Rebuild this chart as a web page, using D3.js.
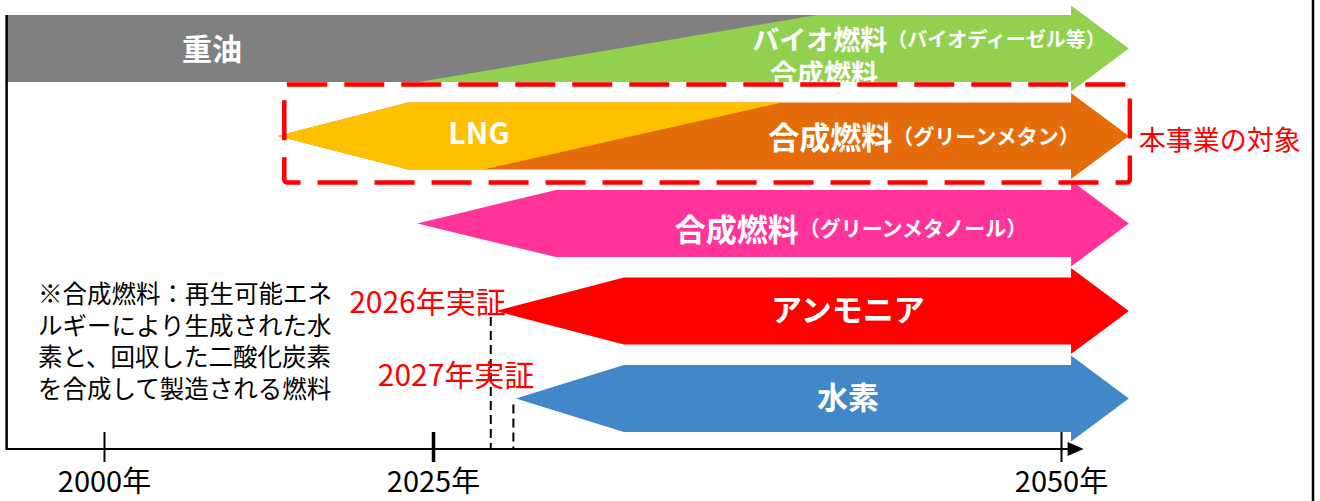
<!DOCTYPE html>
<html lang="ja">
<head>
<meta charset="utf-8">
<title>燃料転換ロードマップ</title>
<script src="https://cdn.jsdelivr.net/npm/d3@7"></script>
<style>
  body { margin: 0; background: #fff; }
  svg { display: block; font-family: "Noto Sans CJK JP", "Noto Sans", sans-serif; }
</style>
</head>
<body>
<script>
// axis: the original squeezes 2000-2025 and stretches 2025-2050
const tickYears = [2000, 2025, 2050];
const tickLabels = ["2000年", "2025年", "2050年"];
const axisFrom = 1992.6, axisTo = 2050.9;

// one row per arrow, top to bottom
const rowKeys = ["oil", "lng", "methanol", "ammonia", "hydrogen"];
const oldColors = ["#808080", "#ffc000", null, null, null];
const newColors = ["#92d050", "#e46c0a", "#ff3399", "#ff0000", "#4287c7"];
const tipYears = [1992.6, 2013.2, 2023.8, 2027.5, 2028.3];   // left point of arrow
const fullYears = [1992.6, 2023.1, 2029.9, 2032.6, 2032.6];  // arrow reaches full height
const shiftStart = [2023.9, 2027.0, null, null, null];       // switch to new fuel (bottom edge)
const shiftEnd = [2040.3, 2038.9, null, null, null];         // switch done (top edge)
const endYear = 2050.4, headYear = 2052.7;

const demoYears = [2027.3, 2028.2];
const demoLabels = ["2026年実証", "2027年実証"];
const targetLabel = "本事業の対象";
const noteLines = [
  "※合成燃料：再生可能エネ",
  "ルギーにより生成された水",
  "素と、回収した二酸化炭素",
  "を合成して製造される燃料"
];

const width = 1320, height = 501;
const svg = d3.select("body").append("svg")
  .attr("width", width)
  .attr("height", height);

const x = d3.scaleLinear()
  .domain(tickYears)
  .range([104, 433, 1061]);

const y = d3.scalePoint()
  .domain(rowKeys)
  .range([48.5, 398.5]);

const h = 33.5, H = 43;
const axisY = 449;

// arrows
rowKeys.forEach((k, i) => {
  const cy = y(k);
  const pts = [
    [x(tipYears[i]), cy], [x(fullYears[i]), cy - h], [x(endYear), cy - h],
    [x(endYear), cy - H], [x(headYear), cy], [x(endYear), cy + H],
    [x(endYear), cy + h], [x(fullYears[i]), cy + h]
  ];
  svg.append("polygon")
    .attr("points", pts.map(p => p.join(",")).join(" "))
    .attr("fill", newColors[i]);

  if (oldColors[i]) {
    const old = [
      [x(tipYears[i]), cy], [x(fullYears[i]), cy - h], [x(shiftEnd[i]), cy - h],
      [x(shiftStart[i]), cy + h], [x(fullYears[i]), cy + h]
    ];
    svg.append("polygon")
      .attr("points", old.map(p => p.join(",")).join(" "))
      .attr("fill", oldColors[i]);
  }
});

// labels on the arrows
function label(cx, cy, parts) {
  const t = svg.append("text")
    .attr("x", cx).attr("y", cy)
    .attr("text-anchor", "middle")
    .attr("dominant-baseline", "central")
    .attr("fill", "#fff")
    .attr("font-weight", 700);
  parts.forEach(p => t.append("tspan").attr("font-size", p[1]).text(p[0]));
  return t;
}
label(212, y("oil") - 2, [["重油", 30]]);
label(929, y("oil") - 11, [["バイオ燃料", 27], ["（バイオディーゼル等）", 20]])
  .append("tspan")
  .attr("x", 824).attr("dy", 34)
  .attr("font-size", 27)
  .text("合成燃料");
label(479, y("lng") - 5, [["LNG", 30]]);
label(924, y("lng") - 1, [["合成燃料", 31], ["（グリーンメタン）", 21]]);
label(851, y("methanol") + 3, [["合成燃料", 31], ["（グリーンメタノール）", 21]]);
label(848, y("ammonia") - 4, [["アンモニア", 31]]);
label(848, y("hydrogen") - 4, [["水素", 31]]);

// project scope box
svg.append("rect")
  .attr("x", x(2013.7))
  .attr("y", y("lng") - 51.5)
  .attr("width", x(headYear) + 1 - x(2013.7))
  .attr("height", 98)
  .attr("rx", 3)
  .attr("fill", "none")
  .attr("stroke", "#ff0000")
  .attr("stroke-width", 4.5)
  .attr("stroke-dasharray", "40,17");

svg.append("text")
  .attr("x", x(headYear) + 10)
  .attr("y", y("lng") + 2)
  .attr("dominant-baseline", "central")
  .attr("font-size", 27)
  .attr("fill", "#ff0000")
  .text(targetLabel);

// demonstration markers
const demoRows = ["ammonia", "hydrogen"];
const demoOffset = [15, 21];
demoYears.forEach((d, i) => {
  svg.append("line")
    .attr("x1", x(d)).attr("x2", x(d))
    .attr("y1", y(demoRows[i]) + 6).attr("y2", axisY)
    .attr("stroke", "#000")
    .attr("stroke-width", 2)
    .attr("stroke-dasharray", "9,5");
  svg.append("text")
    .attr("x", x(d) + demoOffset[i])
    .attr("y", y(demoRows[i]) + (i === 0 ? 1.5 : -12.5))
    .attr("text-anchor", "end")
    .attr("font-size", 30)
    .attr("fill", "#ff0000")
    .text(demoLabels[i]);
});

// note
svg.append("g").selectAll("text")
  .data(noteLines)
  .join("text")
  .attr("x", 38)
  .attr("y", (d, i) => 303 + i * 31.7)
  .attr("font-size", 24.5)
  .attr("fill", "#000")
  .text(d => d);

// axis
const axis = d3.axisBottom(x)
  .tickValues(tickYears)
  .tickFormat((d, i) => tickLabels[i])
  .tickSize(30)
  .tickPadding(9);

const gx = svg.append("g")
  .attr("transform", `translate(0,${axisY - 17})`)
  .call(axis);
gx.select(".domain").remove();
gx.selectAll(".tick line")
  .attr("stroke", "#000")
  .attr("stroke-width", d => d === 2025 ? 3.5 : 2);
gx.selectAll(".tick text")
  .attr("font-size", 29)
  .attr("font-family", "\"Noto Sans CJK JP\", sans-serif")
  .attr("fill", "#000");

svg.append("line")
  .attr("x1", x(axisFrom)).attr("x2", x(axisTo) - 14)
  .attr("y1", axisY).attr("y2", axisY)
  .attr("stroke", "#000").attr("stroke-width", 2);
svg.append("path")
  .attr("d", `M${x(axisTo) - 16},${axisY - 7}L${x(axisTo)},${axisY}L${x(axisTo) - 16},${axisY + 7}Z`)
  .attr("fill", "#000");
svg.append("line")
  .attr("x1", x(axisFrom)).attr("x2", x(axisFrom))
  .attr("y1", 15).attr("y2", axisY + 1)
  .attr("stroke", "#000").attr("stroke-width", 2.5);

// right frame edge
svg.append("line")
  .attr("x1", 1313).attr("x2", 1313)
  .attr("y1", 0).attr("y2", height)
  .attr("stroke", "#000").attr("stroke-width", 2.5);
</script>
</body>
</html>
